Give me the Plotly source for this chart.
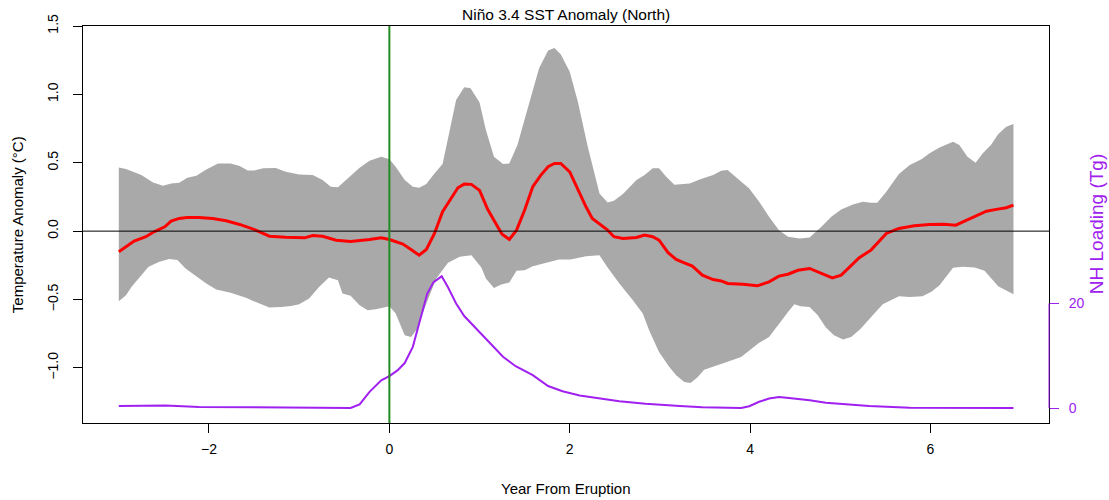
import plotly.graph_objects as go

# ---------------- data ----------------
upper_x = [-3.00, -2.92, -2.75, -2.62, -2.51, -2.42, -2.33, -2.24, -2.14, -2.03, -1.90, -1.76, -1.66,
           -1.57, -1.50, -1.40, -1.26, -1.15, -1.00, -0.85, -0.74, -0.65, -0.57, -0.44, -0.33, -0.22,
           -0.09, 0.00, 0.07, 0.17, 0.26, 0.33, 0.41, 0.50, 0.59, 0.67, 0.74, 0.83, 0.90, 1.00, 1.07,
           1.16, 1.26, 1.33, 1.42, 1.55, 1.66, 1.76, 1.83, 1.90, 2.00, 2.09, 2.20, 2.33, 2.42, 2.49,
           2.59, 2.74, 2.83, 2.92, 2.99, 3.07, 3.16, 3.33, 3.44, 3.59, 3.68, 3.75, 3.86, 3.99, 4.10,
           4.21, 4.32, 4.42, 4.55, 4.66, 4.79, 4.90, 5.01, 5.14, 5.25, 5.34, 5.41, 5.51, 5.65, 5.77,
           5.90, 5.99, 6.10, 6.25, 6.32, 6.41, 6.50, 6.58, 6.67, 6.75, 6.84, 6.92]
upper_y = [0.466, 0.454, 0.410, 0.356, 0.332, 0.349, 0.354, 0.390, 0.405, 0.451, 0.495, 0.495, 0.476,
           0.444, 0.444, 0.459, 0.461, 0.434, 0.415, 0.410, 0.373, 0.325, 0.320, 0.398, 0.464, 0.515,
           0.544, 0.525, 0.471, 0.373, 0.325, 0.317, 0.344, 0.422, 0.490, 0.739, 0.959, 1.052, 1.044,
           0.941, 0.739, 0.544, 0.490, 0.495, 0.630, 0.935, 1.191, 1.320, 1.340, 1.293, 1.166, 0.947,
           0.617, 0.276, 0.210, 0.222, 0.271, 0.373, 0.410, 0.459, 0.459, 0.398, 0.340, 0.349, 0.378,
           0.410, 0.442, 0.447, 0.386, 0.312, 0.215, 0.105, 0.007, -0.041, -0.054, -0.046, 0.032,
           0.105, 0.159, 0.195, 0.215, 0.207, 0.207, 0.288, 0.417, 0.483, 0.525, 0.569, 0.612, 0.654,
           0.630, 0.544, 0.500, 0.569, 0.630, 0.708, 0.764, 0.783]

lower_x = [-3.00, -2.92, -2.86, -2.75, -2.67, -2.55, -2.44, -2.35, -2.26, -2.14, -2.03, -1.92, -1.76,
           -1.59, -1.44, -1.33, -1.20, -1.09, -1.00, -0.89, -0.78, -0.67, -0.57, -0.52, -0.43, -0.33,
           -0.24, -0.15, 0.00, 0.07, 0.17, 0.24, 0.31, 0.41, 0.52, 0.65, 0.78, 0.91, 1.02, 1.07, 1.16,
           1.24, 1.33, 1.41, 1.50, 1.59, 1.74, 1.88, 2.01, 2.18, 2.33, 2.42, 2.55, 2.70, 2.81, 2.88,
           2.99, 3.10, 3.18, 3.27, 3.34, 3.42, 3.49, 3.59, 3.71, 3.90, 3.99, 4.10, 4.21, 4.32, 4.42,
           4.49, 4.56, 4.66, 4.75, 4.84, 4.93, 5.03, 5.12, 5.22, 5.32, 5.47, 5.65, 5.77, 5.91, 6.01,
           6.10, 6.25, 6.36, 6.49, 6.60, 6.75, 6.84, 6.92]
lower_y = [-0.512, -0.469, -0.408, -0.322, -0.261, -0.224, -0.203, -0.212, -0.273, -0.329, -0.383,
           -0.427, -0.451, -0.488, -0.530, -0.559, -0.554, -0.547, -0.534, -0.493, -0.408, -0.339,
           -0.359, -0.456, -0.473, -0.542, -0.578, -0.571, -0.549, -0.603, -0.761, -0.774, -0.713,
           -0.530, -0.347, -0.232, -0.188, -0.176, -0.266, -0.347, -0.415, -0.390, -0.376, -0.290,
           -0.286, -0.256, -0.232, -0.207, -0.207, -0.183, -0.176, -0.266, -0.383, -0.505, -0.603,
           -0.725, -0.883, -0.990, -1.054, -1.103, -1.110, -1.066, -1.013, -0.988, -0.964, -0.920,
           -0.871, -0.817, -0.774, -0.681, -0.591, -0.534, -0.549, -0.554, -0.615, -0.705, -0.761,
           -0.793, -0.774, -0.718, -0.645, -0.534, -0.476, -0.481, -0.476, -0.444, -0.395, -0.268,
           -0.261, -0.266, -0.290, -0.403, -0.432, -0.461]

mean_x = [-3.00, -2.92, -2.83, -2.70, -2.61, -2.49, -2.42, -2.33, -2.24, -2.11, -1.96, -1.81, -1.66,
          -1.51, -1.33, -1.15, -1.00, -0.94, -0.85, -0.74, -0.59, -0.43, -0.22, -0.09, 0.00, 0.15,
          0.24, 0.33, 0.41, 0.50, 0.59, 0.67, 0.76, 0.83, 0.91, 1.00, 1.09, 1.18, 1.25, 1.33, 1.41,
          1.50, 1.59, 1.68, 1.76, 1.83, 1.90, 2.00, 2.09, 2.18, 2.25, 2.35, 2.42, 2.49, 2.59, 2.74,
          2.83, 2.92, 2.99, 3.09, 3.18, 3.27, 3.36, 3.47, 3.59, 3.68, 3.75, 3.92, 4.08, 4.21, 4.32,
          4.42, 4.53, 4.66, 4.75, 4.84, 4.91, 5.01, 5.10, 5.21, 5.34, 5.51, 5.65, 5.82, 5.99, 6.15,
          6.28, 6.45, 6.62, 6.73, 6.84, 6.92]
mean_y = [-0.151, -0.115, -0.073, -0.041, -0.005, 0.032, 0.073, 0.093, 0.100, 0.100, 0.093, 0.076,
          0.049, 0.015, -0.037, -0.044, -0.046, -0.049, -0.032, -0.037, -0.066, -0.076, -0.061,
          -0.049, -0.061, -0.095, -0.134, -0.176, -0.134, -0.017, 0.142, 0.227, 0.317, 0.344, 0.342,
          0.298, 0.160, 0.056, -0.022, -0.061, 0.007, 0.154, 0.325, 0.410, 0.471, 0.495, 0.495, 0.434,
          0.300, 0.178, 0.093, 0.044, 0.007, -0.041, -0.054, -0.046, -0.029, -0.041, -0.066, -0.157,
          -0.207, -0.232, -0.256, -0.322, -0.354, -0.364, -0.383, -0.388, -0.400, -0.371, -0.329,
          -0.315, -0.286, -0.273, -0.298, -0.327, -0.342, -0.322, -0.261, -0.194, -0.139, -0.017,
          0.020, 0.039, 0.049, 0.051, 0.044, 0.093, 0.146, 0.159, 0.171, 0.190]

load_x = [-3.00, -2.48, -2.11, -1.50, -1.00, -0.43, -0.33, -0.22, -0.09, 0.00, 0.09, 0.17, 0.26, 0.35,
          0.42, 0.49, 0.58, 0.65, 0.74, 0.83, 0.96, 1.11, 1.26, 1.40, 1.59, 1.76, 1.92, 2.11, 2.33,
          2.55, 2.84, 3.07, 3.22, 3.47, 3.90, 3.99, 4.10, 4.21, 4.32, 4.43, 4.66, 4.84, 5.06, 5.32,
          5.77, 6.92]
load_y = [0.4, 0.5, 0.2, 0.1, 0.0, 0.0, 0.7, 3.1, 5.3, 6.1, 7.2, 8.6, 11.7, 17.4, 21.9, 24.1, 25.2,
          23.1, 20.0, 17.6, 15.2, 12.6, 9.8, 8.0, 6.3, 4.2, 3.2, 2.4, 1.8, 1.3, 0.83, 0.5, 0.4, 0.13,
          0.0, 0.33, 1.2, 1.8, 2.1, 1.9, 1.5, 1.0, 0.7, 0.4, 0.06, 0.0]

x_ticks = [-2, 0, 2, 4, 6]
y_ticks = [-1.0, -0.5, 0.0, 0.5, 1.0, 1.5]
y_tick_text = ["\u22121.0", "\u22120.5", "0.0", "0.5", "1.0", "1.5"]
y2_ticks = [0, 20]

# ---------------- styles ----------------
FONT = "Liberation Sans, Arial, Helvetica, sans-serif"
GRAY = "#A9A9A9"
RED = "#FF0000"
PURPLE = "#A020F0"
GREEN = "#228B22"

band_x = upper_x + lower_x[::-1]
band_y = upper_y + lower_y[::-1]

fig = go.Figure()
fig.add_trace(go.Scatter(x=band_x, y=band_y, fill="toself", fillcolor=GRAY,
                         mode="lines", line=dict(width=0, color=GRAY),
                         hoverinfo="skip", showlegend=False))
fig.add_trace(go.Scatter(x=mean_x, y=mean_y, mode="lines",
                         line=dict(color=RED, width=3), showlegend=False))
fig.add_trace(go.Scatter(x=load_x, y=load_y, mode="lines", yaxis="y2",
                         line=dict(color=PURPLE, width=2), showlegend=False))

shapes = [
    dict(type="line", xref="paper", x0=0, x1=1, yref="y", y0=0, y1=0,
         line=dict(color="black", width=1), layer="above"),
    dict(type="line", xref="x", x0=0, x1=0, yref="paper", y0=0, y1=1,
         line=dict(color=GREEN, width=2), layer="above"),
    dict(type="line", xref="paper", x0=1, x1=1, yref="y2", y0=y2_ticks[0], y1=y2_ticks[-1],
         line=dict(color=PURPLE, width=1), layer="above"),
]

annotations = [
    dict(text="Niño 3.4 SST Anomaly (North)", xref="paper", yref="paper", x=0.5, y=1.030,
         xanchor="center", yanchor="middle", showarrow=False,
         font=dict(family=FONT, size=15.5, color="black")),
    dict(text="Year From Eruption", xref="paper", yref="paper", x=0.5, y=-0.166,
         xanchor="center", yanchor="middle", showarrow=False,
         font=dict(family=FONT, size=15, color="black")),
    dict(text="Temperature Anomaly (°C)", xref="paper", yref="paper", x=-0.0676, y=0.5,
         xanchor="center", yanchor="middle", showarrow=False, textangle=-90,
         font=dict(family=FONT, size=15, color="black")),
    dict(text="NH Loading (Tg)", xref="paper", yref="paper", x=1.0494, y=0.5,
         xanchor="center", yanchor="middle", showarrow=False, textangle=-90,
         font=dict(family=FONT, size=19, color=PURPLE)),
]

fig.update_layout(
    width=1109, height=500,
    margin=dict(l=83, r=60, t=26, b=77, pad=0),
    paper_bgcolor="white", plot_bgcolor="white",
    font=dict(family=FONT, size=14, color="black"),
    shapes=shapes, annotations=annotations,
    xaxis=dict(range=[-3.397, 7.314], tickvals=x_ticks, ticks="outside", ticklen=9,
               tickcolor="black", tickwidth=1, showline=True, mirror=True,
               linecolor="black", linewidth=1, showgrid=False, zeroline=False,
               ticklabelstandoff=4,
               tickfont=dict(family=FONT, size=14, color="black")),
    yaxis=dict(range=[-1.403, 1.5], tickvals=y_ticks, ticktext=y_tick_text, tickangle=-90,
               ticks="outside", ticklen=9, tickcolor="black", tickwidth=1,
               showline=True, mirror=True, linecolor="black", linewidth=1,
               showgrid=False, zeroline=False, ticklabelstandoff=9,
               tickfont=dict(family=FONT, size=14, color="black")),
    yaxis2=dict(range=[-2.87, 73.1], overlaying="y", side="right", tickvals=y2_ticks,
                ticks="outside", ticklen=9, tickcolor=PURPLE, tickwidth=1,
                showline=False, showgrid=False, zeroline=False, ticklabelstandoff=7,
                tickfont=dict(family=FONT, size=14, color=PURPLE)),
)

fig.write_html("out.html")
